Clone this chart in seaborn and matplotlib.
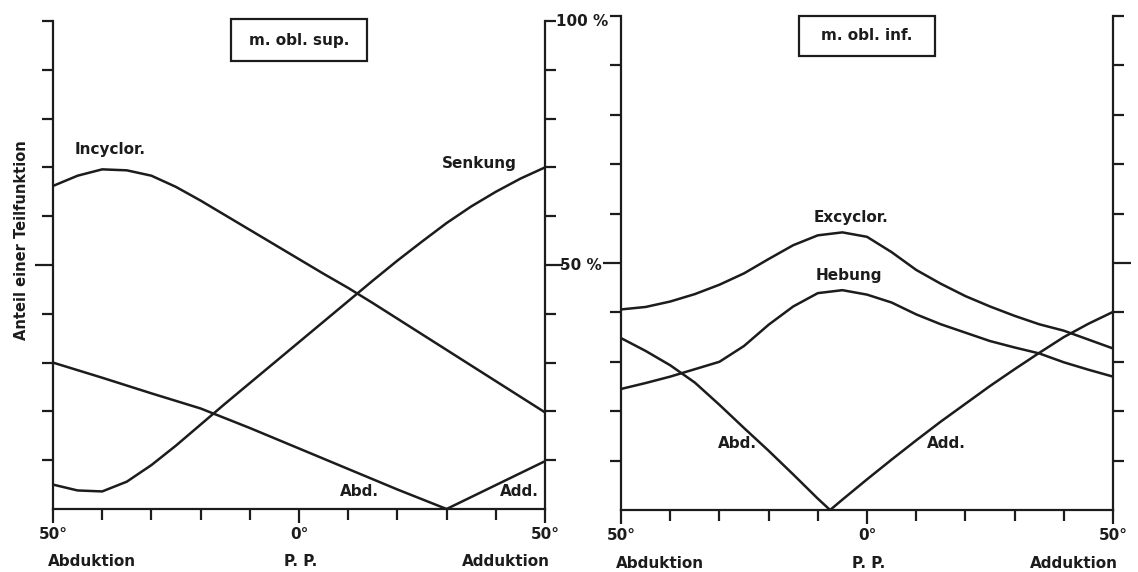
import numpy as np
import pandas as pd
import matplotlib
matplotlib.use("Agg")
import matplotlib.pyplot as plt
import seaborn as sns
from matplotlib.patches import Rectangle

# ---------------- data ----------------
deg = [-50, -45, -40, -35, -30, -25, -20, -15, -10, -5, 0, 5, 10, 15, 20, 25, 30, 35, 40, 45, 50]

# m. obl. sup.
incyclor = [66.2, 68.3, 69.6, 69.4, 68.3, 66.0, 63.2, 60.2, 57.2, 54.2, 51.2, 48.2, 45.3, 42.2,
            39.0, 35.8, 32.6, 29.4, 26.2, 23.0, 19.8]
senkung = [5.0, 3.8, 3.6, 5.6, 9.0, 13.0, 17.3, 21.6, 25.8, 30.0, 34.2, 38.4, 42.6, 46.8,
           50.9, 54.8, 58.6, 62.0, 65.0, 67.7, 70.0]
abd_sup_x = [-50, -40, -30, -20, -10, 0, 10, 20, 30]
abd_sup = [30.0, 26.9, 23.7, 20.6, 16.6, 12.4, 8.2, 4.0, 0.0]
add_sup_x = [30, 40, 50]
add_sup = [0.0, 4.9, 9.8]

# m. obl. inf.
excyclor = [40.6, 41.1, 42.2, 43.7, 45.6, 47.9, 50.8, 53.6, 55.6, 56.2, 55.3, 52.2, 48.6, 45.8,
            43.3, 41.2, 39.3, 37.6, 36.3, 34.5, 32.7]
hebung = [24.5, 25.7, 27.0, 28.5, 30.0, 33.2, 37.5, 41.2, 43.9, 44.5, 43.6, 42.0, 39.6, 37.6,
          35.9, 34.2, 32.9, 31.7, 29.9, 28.4, 27.0]
abd_inf_x = [-50, -45, -40, -35, -30, -25, -20, -15, -10, -7.5]
abd_inf = [34.8, 32.2, 29.3, 25.8, 21.3, 16.6, 12.0, 7.2, 2.3, 0.0]
add_inf_x = [-7.5, -5, 0, 5, 10, 15, 20, 25, 30, 35, 40, 45, 50]
add_inf = [0.0, 2.1, 6.2, 10.2, 14.1, 17.9, 21.5, 25.1, 28.5, 31.8, 35.0, 37.7, 40.1]

xtick_labels = ["50°", "0°", "50°"]
xsub_labels = ["Abduktion", "P. P.", "Adduktion"]
panel_titles = ["m. obl. sup.", "m. obl. inf."]
ylabel = "Anteil einer Teilfunktion"

# ---------------- style ----------------
sns.set_style("ticks")
plt.rcParams["font.family"] = ["DejaVu Sans"]
plt.rcParams["font.weight"] = "bold"
INK = "#1c1c1c"
LW = 1.8
FS = 11

fig = plt.figure(figsize=(11.38, 5.72), dpi=100)
W, H = 1138, 572
ax1 = fig.add_axes([53 / W, 1 - 509 / H, 492 / W, 488 / H])
ax2 = fig.add_axes([621 / W, 1 - 510 / H, 492 / W, 494 / H])


def style(ax):
    ax.set_xlim(-50, 50)
    ax.set_ylim(0, 100)
    ax.spines["top"].set_visible(False)
    for s in ["left", "right", "bottom"]:
        ax.spines[s].set_visible(True)
        ax.spines[s].set_linewidth(1.6)
        ax.spines[s].set_color(INK)
    ax.set_xticks([-50, 0, 50])
    ax.set_xticklabels(xtick_labels, fontsize=FS, fontweight="bold", color=INK)
    ax.set_xticks([-40, -30, -20, -10, 10, 20, 30, 40], minor=True)
    ax.set_yticks([50])
    ax.set_yticklabels([])
    ax.set_yticks([10, 20, 30, 40, 60, 70, 80, 90, 100], minor=True)
    ax.tick_params(axis="y", which="both", left=True, right=True, direction="out",
                   width=1.6, color=INK)
    ax.tick_params(axis="y", which="major", length=13)
    ax.tick_params(axis="y", which="minor", length=8)
    ax.tick_params(axis="x", which="both", bottom=True, direction="out", width=1.6, color=INK)
    ax.tick_params(axis="x", which="major", length=10, pad=3)
    ax.tick_params(axis="x", which="minor", length=8)
    ax.set_xlabel("")
    ax.set_ylabel("")
    for xv, lab, ha, dx in zip([-50, 0, 50], xsub_labels, ["left", "center", "right"], [-5, 2, 5]):
        ax.annotate(lab, xy=(xv, 0), xycoords="data", xytext=(dx * 0.72, -53 * 0.72),
                    textcoords="offset points", ha=ha, va="center", fontsize=FS,
                    fontweight="bold", color=INK, annotation_clip=False)


for ax in (ax1, ax2):
    style(ax)

# ---------------- lines ----------------
kw = dict(color=INK, linewidth=LW, legend=False)
sns.lineplot(x=deg, y=incyclor, ax=ax1, **kw)
sns.lineplot(x=deg, y=senkung, ax=ax1, **kw)
sns.lineplot(x=abd_sup_x, y=abd_sup, ax=ax1, **kw)
sns.lineplot(x=add_sup_x, y=add_sup, ax=ax1, **kw)

sns.lineplot(x=deg, y=excyclor, ax=ax2, **kw)
sns.lineplot(x=deg, y=hebung, ax=ax2, **kw)
sns.lineplot(x=abd_inf_x, y=abd_inf, ax=ax2, **kw)
sns.lineplot(x=add_inf_x, y=add_inf, ax=ax2, **kw)

for ax in (ax1, ax2):
    for ln in ax.lines:
        ln.set_clip_on(False)
        ln.set_solid_capstyle("butt")
        ln.set_solid_joinstyle("round")
    ax.set_xlim(-50, 50)
    ax.set_ylim(0, 100)
    ax.set_xlabel("")
    ax.set_ylabel("")

# ---------------- annotations ----------------
tkw = dict(ha="center", va="center", fontsize=FS, fontweight="bold", color=INK, clip_on=False)
ax1.text(-38.3, 73.6, "Incyclor.", **tkw)
ax1.text(36.7, 70.9, "Senkung", **tkw)
ax1.text(12.3, 3.6, "Abd.", **tkw)
ax1.text(44.8, 3.6, "Add.", **tkw)

ax2.text(-3.2, 59.3, "Excyclor.", **tkw)
ax2.text(-3.6, 47.5, "Hebung", **tkw)
ax2.text(-26.3, 13.4, "Abd.", **tkw)
ax2.text(16.2, 13.4, "Add.", **tkw)

# title boxes
for ax, title, top, bot in [(ax1, panel_titles[0], 100.4, 91.8), (ax2, panel_titles[1], 100.0, 92.0)]:
    ax.add_patch(Rectangle((-13.8, bot), 27.6, top - bot, fill=False, edgecolor=INK,
                           linewidth=1.6, clip_on=False))
    ax.text(0, (top + bot) / 2, title, **tkw)

# percentage labels between the panels
ax1.text(57.6, 100, "100 %", **tkw)
ax1.text(57.2, 50, "50 %", **tkw)

fig.text(22 / W, 1 - 240 / H, ylabel, rotation=90, ha="center", va="center",
         fontsize=10.5, fontweight="bold", color=INK)

fig.savefig("out.png", dpi=100, facecolor="white")
